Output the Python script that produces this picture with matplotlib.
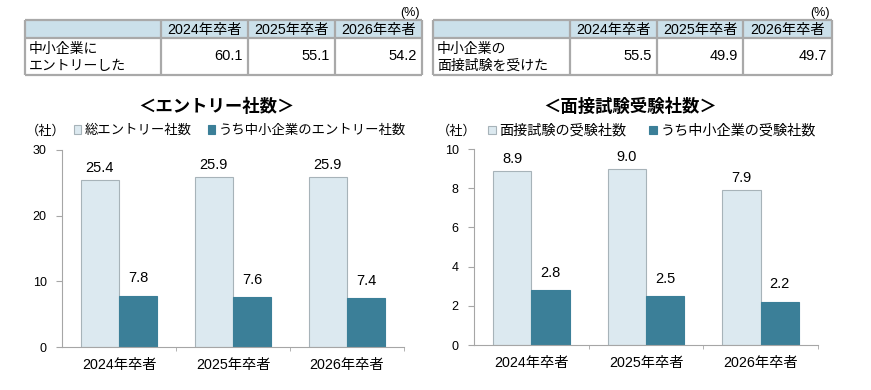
import matplotlib
matplotlib.use('Agg')
import matplotlib.pyplot as plt
from matplotlib.patches import Rectangle
import numpy as np

plt.rcParams['font.family'] = ['Liberation Sans', 'Noto Sans CJK JP']

# ---- data ----
years = ['2024年卒者', '2025年卒者', '2026年卒者']
entry_total = [25.4, 25.9, 25.9]
entry_sme = [7.8, 7.6, 7.4]
interview_total = [8.9, 9.0, 7.9]
interview_sme = [2.8, 2.5, 2.2]
entry_legend = ['総エントリー社数', 'うち中小企業のエントリー社数']
interview_legend = ['面接試験の受験社数', 'うち中小企業の受験社数']
entry_title = '＜エントリー社数＞'
interview_title = '＜面接試験受験社数＞'
table_entry_label = '中小企業に\nエントリーした'
table_entry_values = [60.1, 55.1, 54.2]
table_interview_label = '中小企業の\n面接試験を受けた'
table_interview_values = [55.5, 49.9, 49.7]
unit_label = '（社）'
pct_label = '(%)'

LIGHT = '#dce9f0'
LIGHT_EDGE = '#a7b3b9'
DARK = '#3b7f98'
SPINE = '#a6a6a6'
HEAD = '#cbe0ea'
GRID = '#a9a9a9'

W, H = 871, 390
fig = plt.figure(figsize=(W / 100, H / 100), dpi=100)

tax = fig.add_axes([0, 0, 1, 1])
tax.set_xlim(0, W)
tax.set_ylim(H, 0)
tax.axis('off')


def draw_table(cols, label, values):
    top, mid, bot = 20, 38, 75
    tax.add_patch(Rectangle((cols[0], top), cols[-1] - cols[0], mid - top,
                            facecolor=HEAD, edgecolor='none'))
    for xb in cols:
        tax.plot([xb, xb], [top, bot], color=GRID, lw=1.6, solid_capstyle='butt')
    for yb in (top, mid, bot):
        tax.plot([cols[0], cols[-1]], [yb, yb], color=GRID, lw=1.6, solid_capstyle='butt')
    for i, (yr, v) in enumerate(zip(years, values)):
        cx = (cols[i + 1] + cols[i + 2]) / 2
        tax.text(cx, (top + mid) / 2 + 1, yr, ha='center', va='center', fontsize=10.3)
        tax.text(cols[i + 2] - 5, (mid + bot) / 2, f'{v:.1f}', ha='right', va='center',
                 fontsize=10.5)
    tax.text(cols[0] + 4, (mid + bot) / 2 + 1, label, ha='left', va='center',
             fontsize=10, linespacing=1.2)
    tax.text(cols[-1] - 2, 13, pct_label, ha='right', va='center', fontsize=9)


draw_table([25, 161, 248, 335, 422], table_entry_label, table_entry_values)
draw_table([433, 570, 657, 743, 832], table_interview_label, table_interview_values)


def px_axes(l, t, r, b):
    return fig.add_axes([l / W, 1 - b / H, (r - l) / W, (b - t) / H])


def draw_chart(ax, total, sme, ymax, step, title, labels, title_x, leg_x, unit_x,
               leg_fs, leg_sp):
    x = np.arange(len(years))
    w = 0.335
    b1 = ax.bar(x - w / 2, total, w, color=LIGHT, edgecolor=LIGHT_EDGE, linewidth=0.8,
                label=labels[0], zorder=2)
    b2 = ax.bar(x + w / 2, sme, w, color=DARK, edgecolor=DARK, linewidth=0.8,
                label=labels[1], zorder=2)
    for bars, vals, off in ((b1, total, 3.5), (b2, sme, 7.5)):
        for r, v in zip(bars, vals):
            ax.annotate(f'{v:.1f}', (r.get_x() + r.get_width() / 2, v), xytext=(0, off),
                        textcoords='offset points', ha='center', va='bottom', fontsize=10.5)
    ax.set_xlim(-0.5, 2.5)
    ax.set_ylim(0, ymax)
    ax.set_yticks(np.arange(0, ymax + 0.001, step))
    ax.set_xticks(x)
    ax.set_xticklabels(years, fontsize=10.3)
    ax.set_xticks([0.5, 1.5, 2.5], minor=True)
    ax.tick_params(axis='x', which='major', length=0, pad=8)
    ax.tick_params(axis='x', which='minor', length=3, color=SPINE)
    ax.tick_params(axis='y', length=4, color=SPINE, labelsize=9, pad=7)
    for s in ('top', 'right'):
        ax.spines[s].set_visible(False)
    for s in ('left', 'bottom'):
        ax.spines[s].set_color(SPINE)
    fig.text(title_x / W, 1 - 106 / H, title, ha='center', va='center', fontsize=12.5,
             fontweight='bold')
    fig.text(unit_x / W, 1 - 131 / H, unit_label, ha='center', va='center', fontsize=9.5)
    ax.legend(loc='center left', bbox_to_anchor=(leg_x / W, 1 - 131 / H),
              bbox_transform=fig.transFigure, ncol=2, frameon=False, fontsize=leg_fs,
              handlelength=0.55, handleheight=0.55, handletextpad=0.25,
              columnspacing=leg_sp, borderaxespad=0, borderpad=0)


ax1 = px_axes(62, 150, 404, 347)
draw_chart(ax1, entry_total, entry_sme, 30, 10, entry_title, entry_legend, 216, 74, 46,
           9.6, 1.2)

ax2 = px_axes(474, 149, 818, 345)
draw_chart(ax2, interview_total, interview_sme, 10, 2, interview_title, interview_legend,
           630, 488, 457, 10.2, 1.6)

fig.savefig('out.png', dpi=100)
